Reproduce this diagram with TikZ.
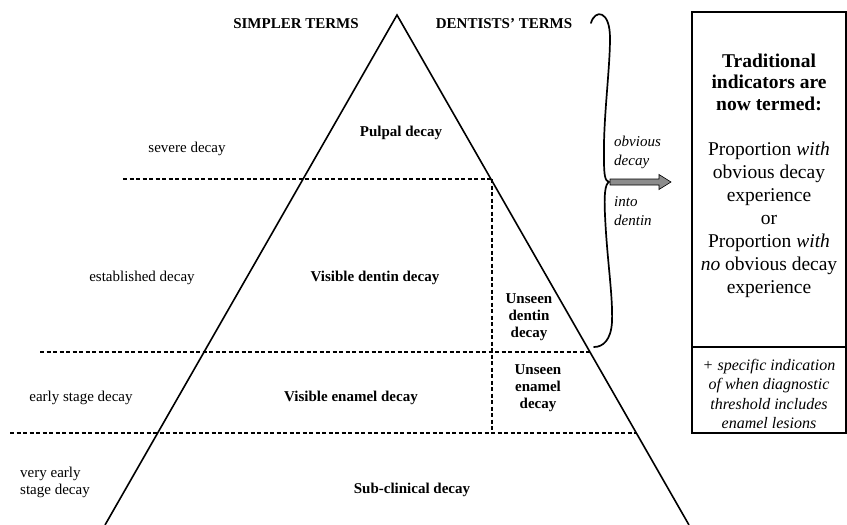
\documentclass[tikz,border=0pt]{standalone}
\usepackage{fontspec}
\setmainfont{Liberation Serif}
\begin{document}
\begin{tikzpicture}[x=1pt,y=-1pt,
  edge/.style={line width=1.6pt},
  dline/.style={dash pattern=on 4pt off 2.5pt, line width=1.1pt},
  boldlbl/.style={font=\bfseries\fontsize{15}{17}\selectfont, inner sep=0pt, align=center},
  plainlbl/.style={font=\fontsize{15}{17}\selectfont, inner sep=0pt},
  itlbl/.style={font=\itshape\fontsize{15}{19}\selectfont, inner sep=0pt, align=left, anchor=west},
  boxline/.style={line width=1.2pt}
]
\useasboundingbox (0,0) rectangle (847,525);

% triangle
\coordinate (apex) at (397,15);
\coordinate (bl) at (105,525);
\coordinate (br) at (689,525);
\draw[edge] (bl) -- (apex) -- (br);

% dashed levels
\coordinate (d1l) at (123,179);   \coordinate (d1r) at (491,179);
\coordinate (d2l) at (40,352);    \coordinate (d2r) at (590,352);
\coordinate (d3l) at (10,433);    \coordinate (d3r) at (636,433);
\coordinate (vt) at (492,179);    \coordinate (vb) at (492,433);
\draw[dline] (d1l) -- (d1r);
\draw[dline] (d2l) -- (d2r);
\draw[dline] (d3l) -- (d3r);
\draw[dline] (vt) -- (vb);

% headings
\node[boldlbl] (simpler) at (296,24) {SIMPLER TERMS};
\node[boldlbl] (dentists) at (504,24) {DENTISTS' TERMS};

% left simple terms
\node[plainlbl] (severe) at (187,149) {severe decay};
\node[plainlbl] (established) at (142,278) {established decay};
\node[plainlbl] (early) at (81,398) {early stage decay};
\node[plainlbl, align=left, anchor=west, font=\fontsize{15}{17}\selectfont] (veryearly) at (20,482) {very early\\stage decay};

% dentists terms inside
\node[boldlbl] (pulpal) at (401,133) {Pulpal decay};
\node[boldlbl] (vdentin) at (375,278) {Visible dentin decay};
\node[boldlbl] (venamel) at (351,398) {Visible enamel decay};
\node[boldlbl] (subclin) at (412,490) {Sub-clinical decay};
\node[boldlbl] (udentin) at (529,317) {Unseen\\dentin\\decay};
\node[boldlbl] (uenamel) at (538,388) {Unseen\\enamel\\decay};

% brace
\coordinate (bt) at (591,23);
\coordinate (bm) at (609,182);
\coordinate (bb) at (594,347);
\draw[line width=1.7pt, line cap=round]
  (bt) .. controls (595,9) and (610,10) .. (610,38)
  .. controls (610,70) and (603,120) .. (604,160)
  .. controls (604,175) and (605,181) .. (bm)
  .. controls (605,184) and (604,195) .. (605,215)
  .. controls (607,260) and (613,295) .. (612,322)
  .. controls (611,340) and (603,347) .. (bb);

% arrow
\draw[fill=black!45, line width=0.6pt]
  (610,179) -- (659,179) -- (659,174.5) -- (671,182) -- (659,189.5) -- (659,185) -- (610,185) -- cycle;
\coordinate (atip) at (671,182);

\node[itlbl] (obvious) at (614,152.5) {obvious\\decay};
\node[itlbl] (into) at (614,211) {into\\dentin};

% right box
\coordinate (boxtl) at (692,12);
\coordinate (boxbr) at (846,433);
\draw[boxline] (boxtl) rectangle (boxbr);
\coordinate (divl) at (692,347);
\coordinate (divr) at (846,347);
\draw[boxline] (divl) -- (divr);

\node[inner sep=0pt, align=center, font=\bfseries\fontsize{19.5}{21.5}\selectfont] (trad) at (769,82) {Traditional\\indicators are\\now termed:};
\node[inner sep=0pt, align=center, font=\fontsize{19.5}{23}\selectfont] (prop) at (769,219.5) {Proportion \textit{with}\\obvious decay\\experience\\or\\Proportion \textit{with}\\\textit{no} obvious decay\\experience};
\node[inner sep=0pt, align=center, font=\itshape\fontsize{16}{19.3}\selectfont] (spec) at (769,394) {+ specific indication\\of when diagnostic\\threshold includes\\enamel lesions};
\end{tikzpicture}
\end{document}
